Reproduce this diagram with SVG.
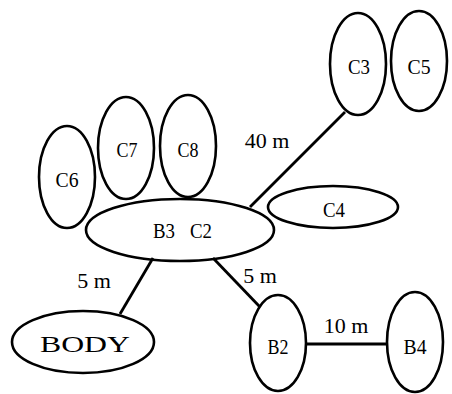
<svg xmlns="http://www.w3.org/2000/svg" width="452" height="394" viewBox="0 0 452 394">
<style>
ellipse{fill:none;stroke:#000;stroke-width:2.6}
line{stroke:#000;stroke-width:2.8}
text{font-family:"Liberation Serif","Times New Roman",serif;font-size:22px;fill:#000;text-anchor:middle}
</style>
<rect width="452" height="394" fill="#fff"/>
<g id="connectors">
<line x1="345" y1="112" x2="250" y2="207"/>
<line x1="153" y1="258" x2="120" y2="314"/>
<line x1="213" y1="258" x2="260" y2="307"/>
<line x1="307" y1="344" x2="387" y2="344"/>
<text x="267" y="148">40 m</text>
<text x="94" y="288">5 m</text>
<text x="260" y="283">5 m</text>
<text x="346" y="333">10 m</text>
</g>
<g id="C3"><ellipse cx="358" cy="64" rx="28" ry="51"/><text x="359" y="74" textLength="22" lengthAdjust="spacingAndGlyphs">C3</text></g>
<g id="C5"><ellipse cx="419" cy="61" rx="28" ry="50"/><text x="419" y="74" textLength="23" lengthAdjust="spacingAndGlyphs">C5</text></g>
<g id="C7"><ellipse cx="126" cy="148" rx="28" ry="51"/><text x="127" y="157" textLength="21" lengthAdjust="spacingAndGlyphs">C7</text></g>
<g id="C8"><ellipse cx="188" cy="146" rx="28" ry="51"/><text x="188" y="157" textLength="21" lengthAdjust="spacingAndGlyphs">C8</text></g>
<g id="C6"><ellipse cx="67" cy="177" rx="28" ry="51"/><text x="67" y="187" textLength="23" lengthAdjust="spacingAndGlyphs">C6</text></g>
<g id="C4"><ellipse cx="333" cy="207" rx="65" ry="21"/><text x="334" y="217" textLength="22" lengthAdjust="spacingAndGlyphs">C4</text></g>
<g id="B3C2"><ellipse cx="180" cy="230" rx="94" ry="31"/><text x="164" y="238" textLength="22" lengthAdjust="spacingAndGlyphs">B3</text><text x="201" y="238" textLength="22" lengthAdjust="spacingAndGlyphs">C2</text></g>
<g id="BODY"><ellipse cx="83" cy="342" rx="71" ry="31"/><text x="85" y="352" style="font-size:24px" textLength="90" lengthAdjust="spacingAndGlyphs">BODY</text></g>
<g id="B2"><ellipse cx="278" cy="343" rx="28" ry="48"/><text x="278" y="354" textLength="21" lengthAdjust="spacingAndGlyphs">B2</text></g>
<g id="B4"><ellipse cx="415" cy="342" rx="28" ry="50"/><text x="415" y="354" textLength="23" lengthAdjust="spacingAndGlyphs">B4</text></g>
</svg>
